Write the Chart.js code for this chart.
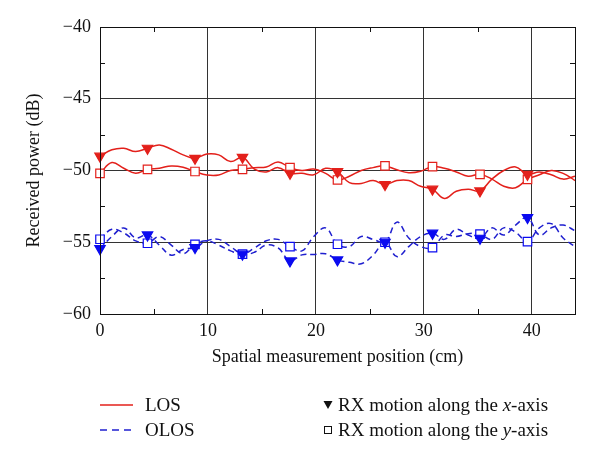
<!DOCTYPE html>
<html>
<head>
<meta charset="utf-8">
<script src="https://cdn.jsdelivr.net/npm/chart.js@4.4.1/dist/chart.umd.min.js"></script>
<style>
  body { margin: 0; background: #fff; }
  #wrap { position: relative; width: 600px; height: 464px; font-family: "Liberation Serif", "DejaVu Serif", serif; }
  .leg { position: absolute; font-size: 19px; line-height: 24px; color: #111; white-space: nowrap; }
  svg.key { position: absolute; }
</style>
</head>
<body>
<div id="wrap">
  <canvas id="grafico" width="600" height="464"></canvas>

  <svg class="key" style="left:100px;top:400px" width="34" height="10"><line x1="0" y1="5" x2="33" y2="5" stroke="#e3201b" stroke-width="1.4"/></svg>
  <div class="leg" style="left:145px;top:393px">LOS</div>
  <svg class="key" style="left:100px;top:425px" width="34" height="10"><line x1="0" y1="5" x2="33" y2="5" stroke="#1f1fcf" stroke-width="1.4" stroke-dasharray="7,5"/></svg>
  <div class="leg" style="left:145px;top:418px">OLOS</div>

  <svg class="key" style="left:323px;top:400px" width="11" height="10"><polygon points="0.5,1 9.5,1 5,9" fill="#111"/></svg>
  <div class="leg" style="left:338px;top:393px">RX motion along the <i>x</i>-axis</div>
  <svg class="key" style="left:323px;top:425px" width="11" height="11"><rect x="1.5" y="1.5" width="7" height="7" fill="#fff" stroke="#111" stroke-width="1"/></svg>
  <div class="leg" style="left:338px;top:418px">RX motion along the <i>y</i>-axis</div>
</div>

<script>
// posicoes das curvas (cm), passo de 1.1 cm
var posicoes = [0, 1.1, 2.2, 3.3, 4.4, 5.5, 6.6, 7.7, 8.8, 9.9, 11, 12.1, 13.2, 14.3, 15.4, 16.5, 17.6, 18.7, 19.8, 20.9,
  22, 23.1, 24.2, 25.3, 26.4, 27.5, 28.6, 29.7, 30.8, 31.9, 33, 34.1, 35.2, 36.3, 37.4, 38.5, 39.6, 40.7, 41.8, 42.9, 44];
// posicoes dos marcadores
var posMarcas = [0, 4.4, 8.8, 13.2, 17.6, 22, 26.4, 30.8, 35.2, 39.6];

// LOS, movimento em x (triangulos)
var losX = [-49.0, -48.56, -48.45, -48.68, -48.45, -48.22, -48.52, -48.91, -49.15, -48.85, -48.91, -49.38, -49.08,
  -49.9, -50.1, -49.8, -50.19, -50.2, -50.3, -49.85, -50.08, -50.85, -50.9, -50.7, -50.98, -50.7, -50.7, -51.1,
  -51.3, -51.95, -51.45, -51.3, -51.42, -50.6, -50.0, -49.75, -50.27, -50.1, -50.3, -50.6, -50.4];
// LOS, movimento em y (quadrados)
var losY = [-50.2, -49.45, -49.84, -50.19, -49.92, -49.84, -49.68, -49.77, -50.07, -50.31, -50.31, -50.0, -49.92,
  -49.8, -49.75, -49.4, -49.8, -50.0, -49.9, -50.2, -50.66, -50.4, -50.0, -49.8, -49.68, -49.95, -50.15, -50.05,
  -49.73, -49.85, -50.1, -50.4, -50.27, -50.6, -51.1, -51.2, -50.62, -50.3, -50.0, -50.2, -50.7];
// OLOS, movimento em x
var olosX = [-55.45, -54.6, -54.0, -54.7, -54.49, -55.2, -55.9, -55.5, -55.37, -54.9, -54.8, -55.3, -55.83,
  -55.7, -55.2, -55.4, -56.3, -55.88, -55.85, -55.8, -56.23, -56.4, -56.5, -55.9, -55.0, -56.0, -55.3, -54.6,
  -54.37, -54.8, -54.1, -54.5, -54.72, -54.0, -54.5, -53.8, -53.28, -54.5, -54.0, -53.8, -54.2];
// OLOS, movimento em y
var olosY = [-54.79, -54.1, -54.35, -54.9, -55.07, -54.6, -55.2, -55.8, -55.15, -54.9, -55.2, -55.6, -55.83,
  -55.4, -54.9, -54.8, -55.3, -55.6, -54.6, -54.0, -55.14, -55.3, -54.6, -54.8, -55.0, -53.6, -54.7, -55.3,
  -55.37, -54.5, -54.6, -54.4, -54.44, -54.8, -54.0, -54.3, -54.95, -54.0, -53.7, -54.7, -55.3];

// valores nos marcadores
var marcaLosX = [-49.0, -48.45, -49.15, -49.08, -50.19, -50.08, -50.98, -51.3, -51.42, -50.27];
var marcaLosY = [-50.2, -49.92, -50.07, -49.92, -49.8, -50.66, -49.68, -49.73, -50.27, -50.62];
var marcaOlosX = [-55.45, -54.49, -55.37, -55.83, -56.3, -56.23, -55.0, -54.37, -54.72, -53.28];
var marcaOlosY = [-54.79, -55.07, -55.15, -55.83, -55.3, -55.14, -55.0, -55.37, -54.44, -54.95];

var xTicks = [0, 10, 20, 30, 40];
var yTicks = [-60, -55, -50, -45, -40];
var xMinor = [5, 15, 25, 35];
var yMinor = [-57.5, -52.5, -47.5, -42.5];

var vermelho = "#e3201b";
var azul = "#1f1fcf";

function pares(xs, ys) {
  return xs.map(function (x, i) { return { x: x, y: ys[i] }; });
}

function curva(ys, cor, tracejado) {
  return {
    data: pares(posicoes, ys),
    showLine: true,
    borderColor: cor,
    borderWidth: 1.5,
    borderDash: tracejado ? [6, 4] : [],
    pointRadius: 0,
    tension: 0.4,
    order: 2
  };
}

function marcas(ys, cor, tipo) {
  return {
    data: pares(posMarcas, ys),
    showLine: false,
    pointStyle: tipo,
    pointRotation: tipo === "triangle" ? 180 : 0,
    pointRadius: tipo === "triangle" ? 6 : 6,
    pointBackgroundColor: tipo === "triangle" ? cor : "#fff",
    pointBorderColor: cor,
    pointBorderWidth: 1.2,
    clip: false,
    order: 1
  };
}

// moldura e tracinhos menores para dentro
var moldura = {
  id: "moldura",
  afterDatasetsDraw: function (chart) {
    var ctx = chart.ctx, a = chart.chartArea;
    var sx = chart.scales.x, sy = chart.scales.y;
    ctx.save();
    ctx.strokeStyle = "#111";
    ctx.lineWidth = 1;
    ctx.beginPath();
    xMinor.forEach(function (v) {
      var p = Math.round(sx.getPixelForValue(v)) + 0.5;
      ctx.moveTo(p, a.bottom); ctx.lineTo(p, a.bottom - 5);
      ctx.moveTo(p, a.top); ctx.lineTo(p, a.top + 5);
    });
    yMinor.forEach(function (v) {
      var p = Math.round(sy.getPixelForValue(v)) + 0.5;
      ctx.moveTo(a.left, p); ctx.lineTo(a.left + 5, p);
      ctx.moveTo(a.right, p); ctx.lineTo(a.right - 5, p);
    });
    ctx.stroke();
    ctx.strokeRect(Math.round(a.left) + 0.5, Math.round(a.top) + 0.5, Math.round(a.right - a.left), Math.round(a.bottom - a.top));
    ctx.restore();
  }
};

var fonte = { family: "'Liberation Serif', 'DejaVu Serif', serif", size: 18 };

new Chart(document.getElementById("grafico"), {
  type: "scatter",
  data: {
    datasets: [
      curva(losX, vermelho, false),
      curva(losY, vermelho, false),
      curva(olosX, azul, true),
      curva(olosY, azul, true),
      marcas(marcaLosX, vermelho, "triangle"),
      marcas(marcaLosY, vermelho, "rect"),
      marcas(marcaOlosX, "#0a0af0", "triangle"),
      marcas(marcaOlosY, "#0a0af0", "rect")
    ]
  },
  options: {
    responsive: false,
    animation: false,
    layout: { padding: { top: 27, right: 25, bottom: 90, left: 0 } },
    plugins: { legend: { display: false }, tooltip: { enabled: false } },
    scales: {
      x: {
        type: "linear",
        min: 0,
        max: 44,
        afterBuildTicks: function (s) { s.ticks = xTicks.map(function (v) { return { value: v }; }); },
        afterFit: function (s) { s.height = 60; },
        ticks: { color: "#111", font: fonte, padding: 6, maxRotation: 0 },
        grid: { color: "#333", lineWidth: 1, drawTicks: false },
        border: { color: "#111", width: 1 },
        title: { display: true, text: "Spatial measurement position (cm)", color: "#111", font: fonte, padding: { top: 0, bottom: 6 } }
      },
      y: {
        type: "linear",
        min: -60,
        max: -40,
        afterBuildTicks: function (s) { s.ticks = yTicks.map(function (v) { return { value: v }; }); },
        afterFit: function (s) { s.width = 100; },
        ticks: {
          color: "#111",
          font: fonte,
          padding: 9,
          callback: function (v) { return String(v).replace("-", "\u2212"); }
        },
        grid: { color: "#333", lineWidth: 1, drawTicks: false },
        border: { color: "#111", width: 1 },
        title: { display: true, text: "Received power (dB)", color: "#111", font: fonte, padding: { top: 23, bottom: 0 } }
      }
    }
  },
  plugins: [moldura]
});
</script>
</body>
</html>
